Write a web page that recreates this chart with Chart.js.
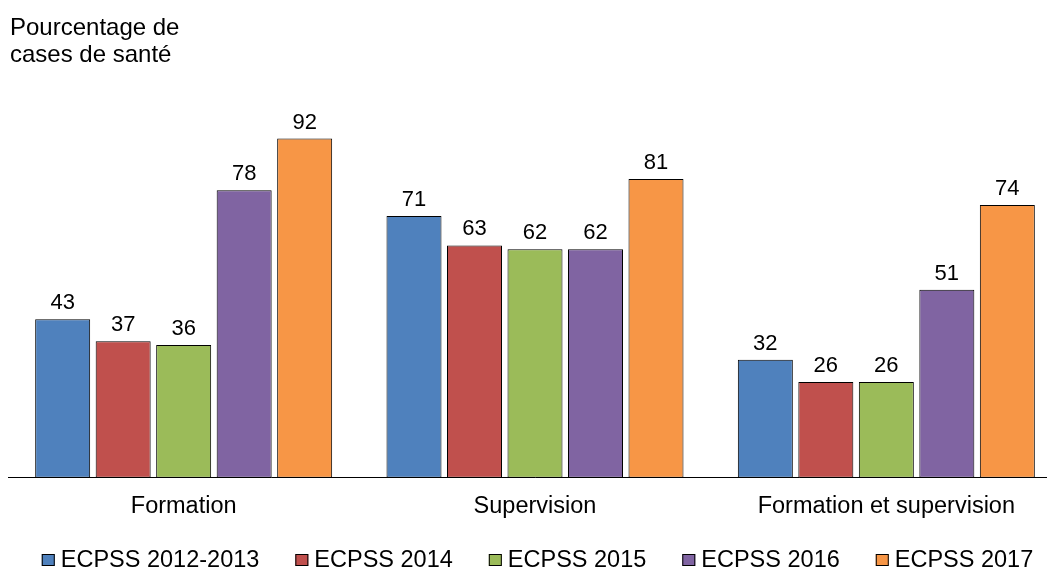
<!DOCTYPE html>
<html>
<head>
<meta charset="utf-8">
<script src="https://cdn.jsdelivr.net/npm/chart.js@4/dist/chart.umd.min.js"></script>
<style>
  html, body { margin: 0; padding: 0; background: #fff; overflow: hidden; }
  #wrap { position: relative; width: 1070px; height: 570px; }
</style>
</head>
<body>
<div id="wrap"><canvas id="chart" width="1070" height="570"></canvas></div>
<script>
// Data
const categories = ['Formation', 'Supervision', 'Formation et supervision'];
const seriesNames = ['ECPSS 2012-2013', 'ECPSS 2014', 'ECPSS 2015', 'ECPSS 2016', 'ECPSS 2017'];
const ecpss2012 = [43, 71, 32];
const ecpss2014 = [37, 63, 26];
const ecpss2015 = [36, 62, 26];
const ecpss2016 = [78, 62, 51];
const ecpss2017 = [92, 81, 74];
const titleLines = ['Pourcentage de', 'cases de santé'];

const colors = ['#4F81BD', '#C0504D', '#9BBB59', '#8064A2', '#F79646'];
const FONT = '"Liberation Sans", Arial, sans-serif';

// Title in the top left corner
const titlePlugin = {
  id: 'cornerTitle',
  afterDraw(chart) {
    const ctx = chart.ctx;
    ctx.save();
    ctx.font = '24px ' + FONT;
    ctx.fillStyle = '#000';
    ctx.textAlign = 'left';
    ctx.textBaseline = 'alphabetic';
    ctx.fillText(titleLines[0], 10, 35);
    ctx.fillText(titleLines[1], 10, 62);
    ctx.restore();
  }
};

// Value above each bar
const valueLabels = {
  id: 'valueLabels',
  afterDatasetsDraw(chart) {
    const ctx = chart.ctx;
    ctx.save();
    ctx.font = '22px ' + FONT;
    ctx.fillStyle = '#000';
    ctx.textAlign = 'center';
    ctx.textBaseline = 'alphabetic';
    chart.data.datasets.forEach((ds, i) => {
      chart.getDatasetMeta(i).data.forEach((bar, j) => {
        ctx.fillText(ds.data[j], bar.x, bar.y - 10);
      });
    });
    ctx.restore();
  }
};

// Legend row along the bottom
const bottomLegend = {
  id: 'bottomLegend',
  afterDraw(chart) {
    const ctx = chart.ctx;
    const box = 13, boxH = 12, textGap = 6, itemGap = 36;
    const baseline = 567, centerX = 537.5;
    ctx.save();
    ctx.font = '23.5px ' + FONT;
    ctx.textBaseline = 'alphabetic';
    ctx.textAlign = 'left';
    const widths = chart.data.datasets.map(ds => box + textGap + ctx.measureText(ds.label).width);
    const total = widths.reduce((a, b) => a + b, 0) + itemGap * (widths.length - 1);
    let x = centerX - total / 2;
    chart.data.datasets.forEach((ds, i) => {
      ctx.fillStyle = ds.backgroundColor;
      ctx.fillRect(x, baseline - 13, box, boxH);
      ctx.strokeStyle = '#000';
      ctx.lineWidth = 1;
      ctx.strokeRect(x + 0.5, baseline - 12.5, box - 1, boxH - 1);
      ctx.fillStyle = '#000';
      ctx.fillText(ds.label, x + box + textGap, baseline);
      x += widths[i] + itemGap;
    });
    ctx.restore();
  }
};

const seriesData = [ecpss2012, ecpss2014, ecpss2015, ecpss2016, ecpss2017];

new Chart(document.getElementById('chart'), {
  type: 'bar',
  data: {
    labels: categories,
    datasets: seriesNames.map((name, i) => ({
      label: name,
      data: seriesData[i],
      backgroundColor: colors[i],
      borderColor: '#000',
      borderWidth: 1,
      borderSkipped: false,
      categoryPercentage: 0.861,
      barPercentage: 0.909
    }))
  },
  options: {
    responsive: false,
    animation: false,
    layout: { padding: { left: 8, right: 8, top: 109, bottom: 42 } },
    scales: {
      x: {
        grid: { display: false },
        border: { display: true, color: '#000', width: 1 },
        ticks: { color: '#000', font: { family: FONT, size: 23.5 }, padding: 7, maxRotation: 0 }
      },
      y: {
        display: false,
        min: 0,
        max: 100
      }
    },
    plugins: {
      legend: { display: false },
      tooltip: { enabled: false }
    }
  },
  plugins: [titlePlugin, valueLabels, bottomLegend]
});
</script>
</body>
</html>
